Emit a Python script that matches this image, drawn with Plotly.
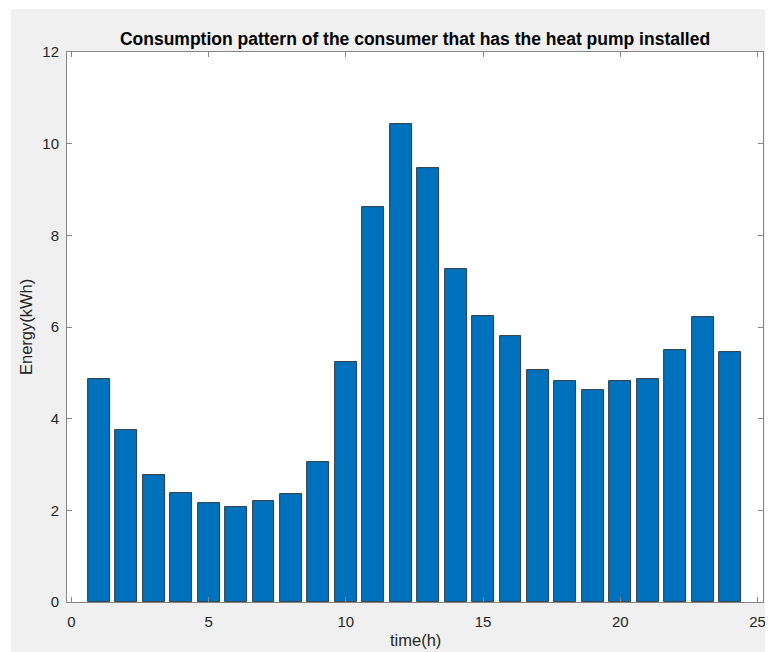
import plotly.graph_objects as go

hours = list(range(1, 25))
energy = [4.86, 3.76, 2.77, 2.38, 2.17, 2.08, 2.21, 2.36, 3.06, 5.24, 8.61, 10.43,
          9.47, 7.27, 6.25, 5.81, 5.07, 4.83, 4.62, 4.83, 4.86, 5.50, 6.21, 5.46]
x_ticks = [0, 5, 10, 15, 20, 25]
y_ticks = [0, 2, 4, 6, 8, 10, 12]

W, H = 773, 652
L, R, T, B = 59, 18, 44, 58
FONT = "Liberation Sans, Arial, Helvetica, sans-serif"

fig = go.Figure()
fig.add_trace(go.Bar(
    x=hours, y=energy, width=0.8,
    marker=dict(color="#0072BD", line=dict(color="#1a1a1a", width=0.8)),
))

axis_common = dict(
    showline=True, linecolor="#858585", linewidth=1, mirror="ticks",
    ticks="inside", ticklen=5, tickcolor="#858585", tickwidth=1,
    showgrid=False, zeroline=False,
    tickfont=dict(family=FONT, size=15, color="#262626"),
)

fig.update_layout(
    width=W, height=H,
    margin=dict(l=L, r=R, t=T, b=B),
    paper_bgcolor="#F0F0F0", plot_bgcolor="white",
    showlegend=False,
    bargap=0,
    title=dict(
        text="<b>Consumption pattern of the consumer that has the heat pump installed</b>",
        x=(L + (W - R)) / 2 / W, xanchor="center",
        y=1 - 31 / H, yanchor="middle",
        font=dict(family=FONT, size=17.5, color="black"),
    ),
    xaxis=dict(range=[-0.16, 25.2], tickvals=x_ticks, ticklabelstandoff=6, **axis_common),
    yaxis=dict(range=[0, 12], tickvals=y_ticks, ticklabelstandoff=4, **axis_common),
    annotations=[
        dict(text="time(h)", xref="paper", yref="paper", x=0.5, y=0,
             xanchor="center", yanchor="middle", yshift=-38, showarrow=False,
             font=dict(family=FONT, size=16.5, color="#262626")),
        dict(text="Energy(kWh)", xref="paper", yref="paper", x=0, y=0.5,
             xanchor="center", yanchor="middle", xshift=-41, textangle=-90, showarrow=False,
             font=dict(family=FONT, size=16.5, color="#262626")),
    ],
)

pw = W - L - R
ph = H - T - B
# thin white outer strips (left and top) of the screenshot
fig.add_shape(type="rect", xref="paper", yref="paper",
              x0=-L / pw, x1=(3 - L) / pw, y0=-B / ph, y1=1 + T / ph,
              fillcolor="white", line=dict(width=0), layer="below")
fig.add_shape(type="rect", xref="paper", yref="paper",
              x0=-L / pw, x1=(W - L) / pw, y0=1 + (T - 1) / ph, y1=1 + T / ph,
              fillcolor="white", line=dict(width=0), layer="below")

fig.write_html("out.html")
